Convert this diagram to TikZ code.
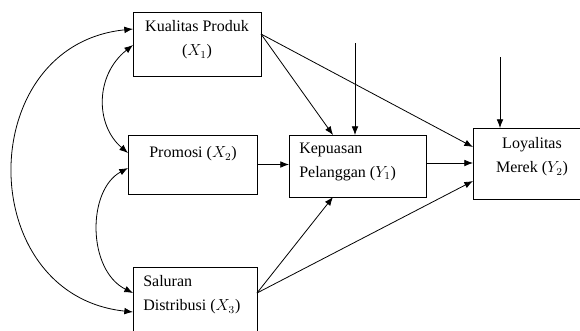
\documentclass[tikz,border=0pt]{standalone}
\usepackage{fontspec}
\setmainfont{Liberation Serif}
\usepackage{tikz}
\usetikzlibrary{arrows.meta, calc}

\tikzset{
  box/.style={draw, rectangle, inner sep=0pt, outer sep=0pt, line width=0.6pt, anchor=north west},
  txt/.style={inner sep=0pt, font=\fontsize{12}{18}\selectfont},
  arr/.style={line width=0.6pt, -{Latex[length=6.5pt,width=5pt]}},
  dbl/.style={line width=0.6pt, {Latex[length=6.5pt,width=5pt]}-{Latex[length=6.5pt,width=5pt]}}
}

\begin{document}
\begin{tikzpicture}[x=0.75pt, y=-0.75pt]
\useasboundingbox (0,0) rectangle (580,330);
\clip (0,0) rectangle (580,330);

\node[box, minimum width=96pt, minimum height=48pt] (x1) at (133,12) {};
\node[box, minimum width=96.75pt, minimum height=44.25pt] (x2) at (128,135) {};
\node[box, minimum width=93pt, minimum height=90pt] (x3) at (133,267) {};
\node[box, minimum width=102.75pt, minimum height=46.5pt] (y1) at (289,135) {};
\node[box, minimum width=120pt, minimum height=53.25pt] (y2) at (473,128) {};

\node[txt, align=center] (x1txt) at (197,40) {Kualitas Produk\\($X_1$)};
\node[txt] (x2txt) at (193,154) {Promosi ($X_2$)};
\node[txt, align=left, anchor=west] (x3txt) at (143,295) {Saluran\\Distribusi ($X_3$)};
\node[txt, align=left, anchor=west] (y1txt) at (299,162) {Kepuasan\\Pelanggan ($Y_1$)};
\node[txt, align=center] (y2txt) at (532,157) {Loyalitas\\Merek ($Y_2$)};

\coordinate (e1) at (355,43);
\coordinate (e2) at (500,57);

\draw[arr] (e1) -- (e1 |- y1.north);
\draw[arr] (e2) -- (e2 |- y2.north);

\draw[arr] ($(x1.north east)+(0,22)$) -- ($(y1.north west)+(44,0)$);
\draw[arr] ($(x1.north east)+(0,22)$) -- ($(y2.north west)+(0,19)$);
\draw[arr] (x2.east) -- (x2.east -| y1.west);
\draw[arr] ($(y1.north east)+(0,28)$) -- ($(y2.north west)+(0,35)$);
\draw[arr] ($(x3.north east)+(0,26)$) -- ($(y1.south west)+(44,0)$);
\draw[arr] ($(x3.north east)+(0,26)$) -- ($(y2.north west)+(0,53)$);

\draw[dbl] ($(x1.north west)+(0,17)$) .. controls (-27,45) and (-27,295) .. ($(x3.north west)+(0,45)$);
\draw[dbl] ($(x1.north west)+(0,33)$) .. controls (95,75) and (95,125) .. ($(x2.north west)+(0,18)$);
\draw[dbl] ($(x2.north west)+(0,33)$) .. controls (87,190) and (87,270) .. ($(x3.north west)+(0,26)$);
\end{tikzpicture}
\end{document}
